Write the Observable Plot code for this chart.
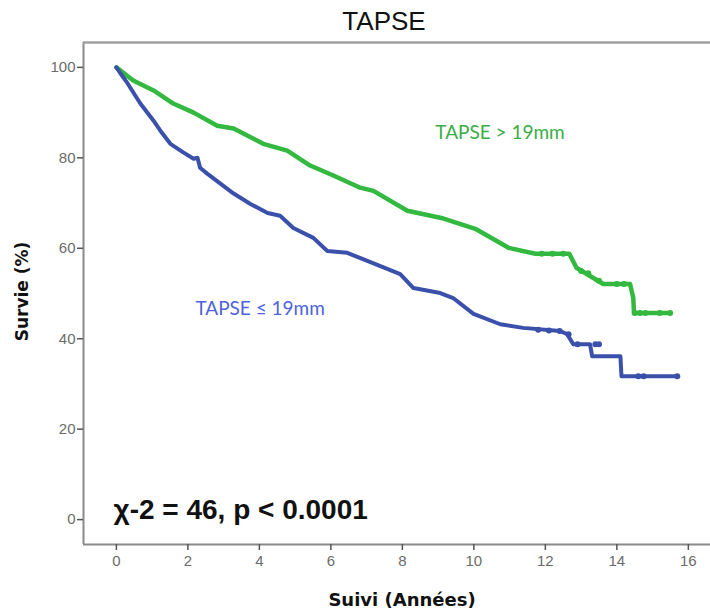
<!DOCTYPE html>
<html>
<head>
<meta charset="utf-8">
<script src="https://cdn.jsdelivr.net/npm/d3@7"></script>
<script src="https://cdn.jsdelivr.net/npm/@observablehq/plot@0.6"></script>
<style>
  html, body { margin: 0; padding: 0; background: #fff; }
  #chart { width: 710px; height: 612px; }
</style>
</head>
<body>
<div id="chart"></div>
<script>
// Survival curves (time in years, survival in %)
const blueTime = [0, 0.11, 0.31, 0.67, 1.04, 1.23, 1.51, 1.87, 2.16, 2.27, 2.34, 2.54, 2.91, 3.28, 3.75, 4.23, 4.58, 4.95, 5.51, 5.90, 6.46, 7.02, 7.94, 8.31, 9.06, 9.42, 9.99, 10.74, 11.38, 12.41, 12.61, 12.78, 13.25, 13.31, 14.10, 14.13, 15.69];
const blueSurv = [100, 98.7, 96.5, 92.0, 88.2, 86.0, 83.1, 81.2, 79.8, 80.0, 77.8, 76.5, 74.3, 72.1, 69.8, 67.8, 67.2, 64.5, 62.3, 59.4, 59.0, 57.2, 54.3, 51.2, 50.1, 49.0, 45.5, 43.2, 42.4, 41.7, 41.0, 38.8, 38.8, 36.1, 36.1, 31.7, 31.7];
const greenTime = [0, 0.47, 1.04, 1.59, 2.16, 2.82, 3.28, 4.11, 4.78, 5.42, 6.07, 6.82, 7.19, 8.14, 9.09, 10.04, 10.97, 11.72, 12.67, 12.87, 13.62, 14.37, 14.46, 14.48, 15.49];
const greenSurv = [100, 97.1, 94.9, 92.0, 90.0, 87.1, 86.5, 83.1, 81.6, 78.3, 76.1, 73.4, 72.7, 68.3, 66.7, 64.3, 60.1, 58.8, 58.8, 55.7, 52.1, 52.1, 49.0, 45.7, 45.7];

// Censoring marks on the sparse tails
const blueCensTime = [11.8, 12.1, 12.4, 12.65, 12.9, 13.4, 13.5, 14.6, 14.75, 15.69];
const blueCensSurv = [42.0, 41.8, 41.7, 41.0, 38.8, 38.8, 38.8, 31.7, 31.7, 31.7];
const greenCensTime = [11.9, 12.2, 12.5, 13.0, 13.2, 13.5, 14.0, 14.2, 14.5, 14.65, 14.8, 15.2, 15.49];
const greenCensSurv = [58.8, 58.8, 58.8, 55.0, 54.5, 52.8, 52.1, 52.1, 45.7, 45.7, 45.7, 45.7, 45.7];

const xTicks = [0, 2, 4, 6, 8, 10, 12, 14, 16];
const yTicks = [0, 20, 40, 60, 80, 100];

const groupLabels = ["TAPSE > 19mm", "TAPSE \u2264 19mm"];
const statText = "\u03C7-2 = 46, p < 0.0001";
const titleText = "TAPSE";
const xLabel = "Suivi (Ann\u00e9es)";
const yLabel = "Survie (%)";

const blueColor = "#3a50aa";
const greenColor = "#33b840";
const blueText = "#4d63dc";
const greenText = "#3aad48";
const axisGray = "#6b6b6b";

const toRows = (ts, ss) => ts.map((t, i) => ({t, s: ss[i]}));
const blue = toRows(blueTime, blueSurv);
const green = toRows(greenTime, greenSurv);
const blueC = toRows(blueCensTime, blueCensSurv);
const greenC = toRows(greenCensTime, greenCensSurv);

const xDomain = [-0.92, 16.62];
const yDomain = [-5.5, 105.5];

const chart = Plot.plot({
  width: 710,
  height: 612,
  marginLeft: 83,
  marginRight: 0,
  marginTop: 42,
  marginBottom: 68,
  style: {fontFamily: "Liberation Sans, Arial, sans-serif", background: "#fff", overflow: "visible"},
  x: {domain: xDomain, ticks: xTicks, label: null},
  y: {domain: yDomain, ticks: yTicks, label: null},
  marks: [
    Plot.ruleX([xDomain[0]], {stroke: "#8a8a8a", strokeWidth: 2}),
    Plot.ruleY([yDomain[1]], {stroke: "#a0a0a0", strokeWidth: 2.5}),
    Plot.ruleY([yDomain[0]], {stroke: "#8a8a8a", strokeWidth: 2}),
    Plot.axisX({ticks: xTicks, tickSize: 6, tickPadding: 5, fontSize: 15, stroke: "#555", color: axisGray, strokeWidth: 1.5, label: null}),
    Plot.axisY({ticks: yTicks, tickSize: 6, tickPadding: 2, fontSize: 15, stroke: "#555", color: axisGray, strokeWidth: 1.5, label: null}),
    Plot.line(green, {x: "t", y: "s", stroke: greenColor, strokeWidth: 4.5, strokeLinejoin: "round", strokeLinecap: "round"}),
    Plot.line(blue, {x: "t", y: "s", stroke: blueColor, strokeWidth: 4, strokeLinejoin: "round", strokeLinecap: "round"}),
    Plot.dot(greenC, {x: "t", y: "s", r: 3, fill: greenColor}),
    Plot.dot(blueC, {x: "t", y: "s", r: 3, fill: blueColor}),
    Plot.text([groupLabels[0]], {x: 8.92, y: 85.6, text: d => d, fill: greenText, fontSize: 19, fontFamily: "Lato, Open Sans, sans-serif", textAnchor: "start"}),
    Plot.text([groupLabels[1]], {x: 2.21, y: 46.6, text: d => d, fill: blueText, fontSize: 19, fontFamily: "Lato, Open Sans, sans-serif", textAnchor: "start"}),
    Plot.text([statText], {x: -0.08, y: 2.2, text: d => d, fill: "#111", fontSize: 28, fontWeight: "bold", textAnchor: "start", fontFamily: "Liberation Sans Narrow, Liberation Sans, Arial, sans-serif"}),
    Plot.text([titleText], {frameAnchor: "top", dy: -31, dx: -13, text: d => d, fill: "#111", fontSize: 26, textAnchor: "middle"}),
    Plot.text([xLabel], {frameAnchor: "bottom", dy: 61, dx: 5, text: d => d, fill: "#111", fontSize: 18, fontWeight: "bold", textAnchor: "middle", fontFamily: "DejaVu Sans, sans-serif"}),
    Plot.text([yLabel], {frameAnchor: "left", dx: -61, dy: -2, rotate: -90, text: d => d, fill: "#111", fontSize: 17, fontWeight: "bold", textAnchor: "middle", fontFamily: "DejaVu Sans, sans-serif"})
  ]
});
document.getElementById("chart").appendChild(chart);
</script>
</body>
</html>
